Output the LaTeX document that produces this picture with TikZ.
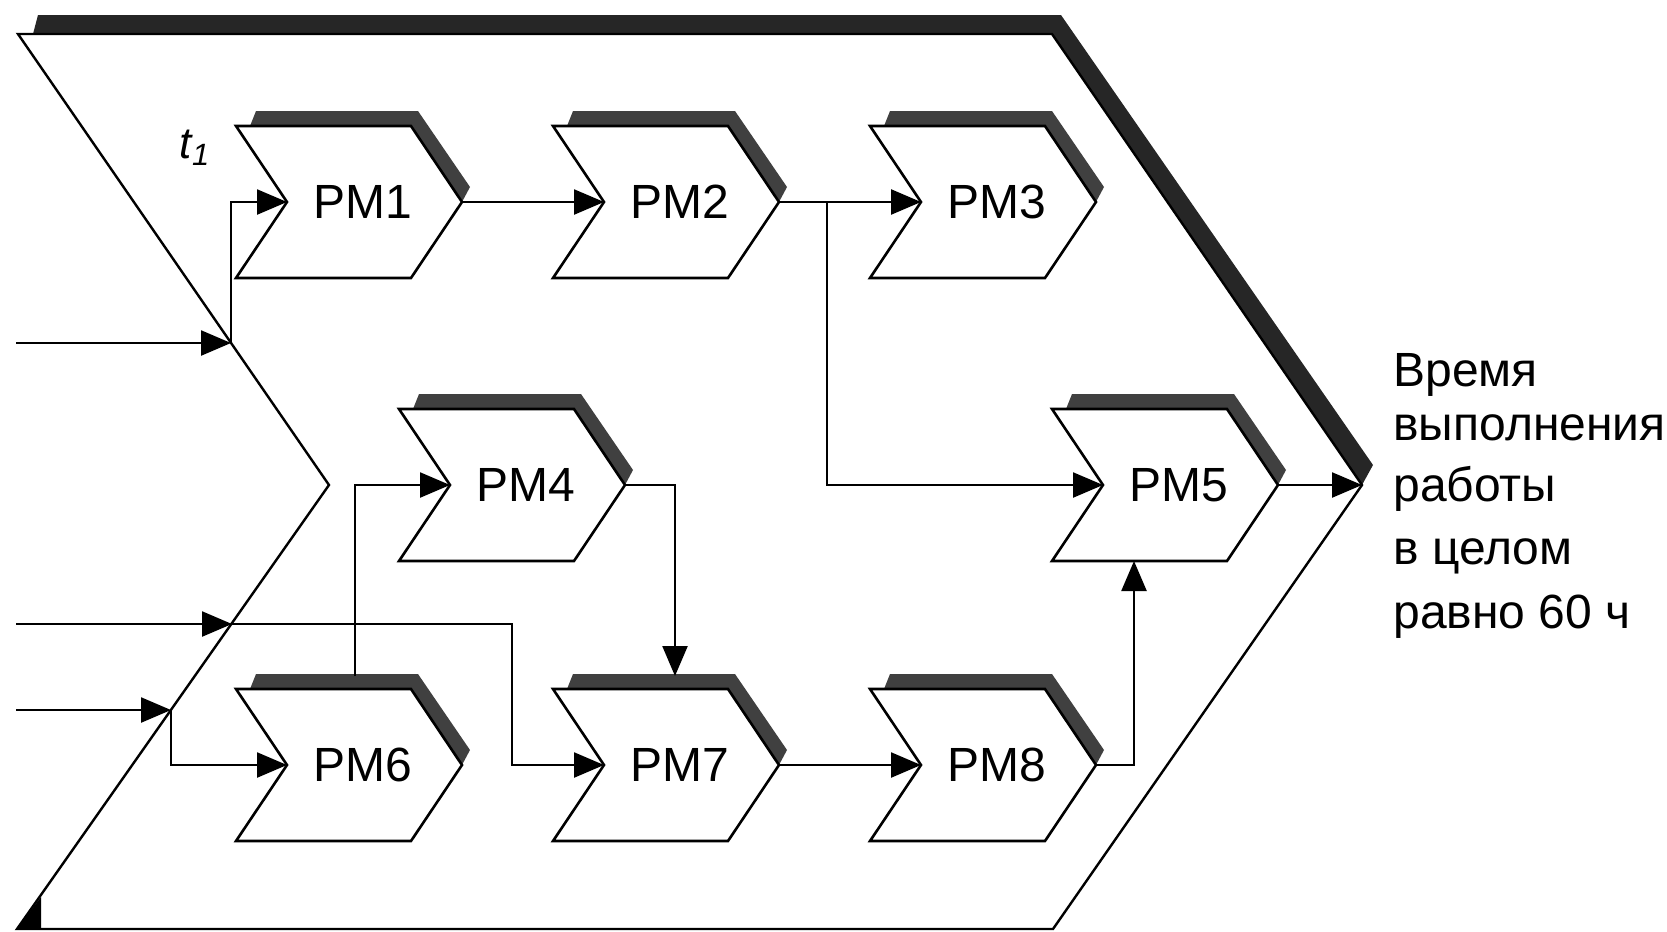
\documentclass[tikz,border=0pt]{standalone}
\usepackage{fontspec}
\setmainfont{Liberation Sans}
\usetikzlibrary{arrows.meta}
\newcommand\pmblock[4]{%
  \fill[shd] (#2+14,#3-76) -- (#2+20,#3-91) -- (#2+182,#3-91) -- (#2+234,#3-15) -- (#2+226,#3) -- (#2+175,#3-76) -- cycle;
  \draw[blk] (#2,#3-76) -- (#2+175,#3-76) -- (#2+226,#3) -- (#2+175,#3+76) -- (#2,#3+76) -- (#2+51,#3) -- cycle;
  \node[lbl] (#1) at (#2+127,#3) {#4};
  \coordinate (#1-in) at (#2+51,#3);
  \coordinate (#1-out) at (#2+226,#3);
}
\begin{document}
\begin{tikzpicture}[x=0.5pt,y=-0.5pt,
  blk/.style={draw=black,line width=1.3pt,fill=white,line join=miter},
  shd/.style={fill=black!75},
  bigshd/.style={fill=black!85},
  conn/.style={line width=1.2pt},
  arr/.style={conn,-{Triangle[length=15pt,width=12.5pt]}},
  lbl/.style={font=\fontsize{24}{28}\selectfont,inner sep=0pt},
  note/.style={font=\fontsize{24}{30}\selectfont,anchor=base west,inner sep=0pt}]
\useasboundingbox (0,0) rectangle (1667,932);
% big chevron
\fill[bigshd] (33,34) -- (38,15) -- (1061,15) -- (1373,465) -- (1362,485) -- (1052,34) -- cycle;
\draw[line width=1.2pt,line join=miter] (18,34) -- (1052,34) -- (1362,485) -- (1053,929) -- (17,929) -- (329,485) -- cycle;
\fill[black] (17,929) -- (41,929) -- (41,897) -- cycle;
\coordinate (bigtip) at (1362,485);
% blocks
\pmblock{pm1}{236}{202}{РМ1}
\pmblock{pm2}{553}{202}{РМ2}
\pmblock{pm3}{870}{202}{РМ3}
\pmblock{pm4}{399}{485}{РМ4}
\pmblock{pm5}{1052}{485}{РМ5}
\pmblock{pm6}{236}{765}{РМ6}
\pmblock{pm7}{553}{765}{РМ7}
\pmblock{pm8}{870}{765}{РМ8}
% label t1
\node[font=\fontsize{22}{26}\selectfont\itshape,inner sep=0pt] (t1) at (195,148) {t\textsubscript{1}};
% coordinates
\coordinate (in1) at (16,343);
\coordinate (j1) at (231,343);
\coordinate (in2) at (16,624);
\coordinate (j2) at (232,624);
\coordinate (k2) at (512,624);
\coordinate (in3) at (16,710);
\coordinate (j3) at (171,710);
\coordinate (b2) at (827,202);
\coordinate (pm6top) at (355,676);
\coordinate (pm7top) at (675,676);
\coordinate (pm5bot) at (1134,561);
% connectors
\draw[arr] (in1) -- (j1);
\draw[arr] (j1) |- (pm1-in);
\draw[arr] (pm1-out) -- (pm2-in);
\draw[arr] (pm2-out) -- (pm3-in);
\draw[arr] (b2) |- (pm5-in);
\draw[arr] (pm6top) |- (pm4-in);
\draw[arr] (pm4-out) -| (pm7top);
\draw[arr] (in2) -- (j2);
\draw[arr] (j2) -- (k2) |- (pm7-in);
\draw[arr] (in3) -- (j3);
\draw[arr] (j3) |- (pm6-in);
\draw[arr] (pm7-out) -- (pm8-in);
\draw[arr] (pm8-out) -| (pm5bot);
\draw[arr] (pm5-out) -- (bigtip);
% result text
\node[note] (r1) at (1393,386) {Время};
\node[note] (r2) at (1393,440) {выполнения};
\node[note] (r3) at (1393,501) {работы};
\node[note] (r4) at (1393,564) {в целом};
\node[note] (r5) at (1393,628) {равно 60 ч};
\end{tikzpicture}
\end{document}
